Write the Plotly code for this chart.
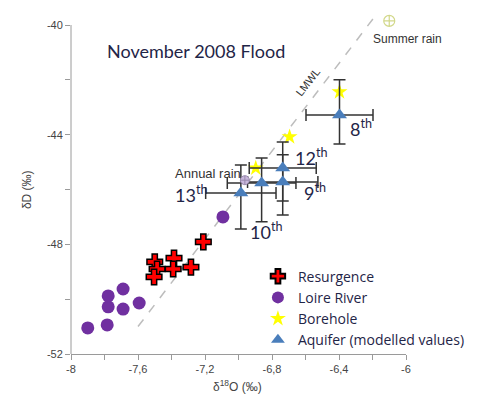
import plotly.graph_objects as go

# ---- data ----
res_x = [-7.50, -7.385, -7.486, -7.39, -7.284, -7.504, -7.21]
res_y = [-48.64, -48.50, -48.90, -48.90, -48.83, -49.19, -47.91]

loire_x = [-7.90, -7.784, -7.778, -7.778, -7.689, -7.689, -7.593, -7.093]
loire_y = [-51.05, -50.94, -50.28, -49.88, -49.63, -50.36, -50.14, -47.00]

bore_x = [-6.397, -6.695, -6.897]
bore_y = [-42.44, -44.08, -45.22]

aq_names = ["8", "12", "9", "10", "13"]
aq_x = [-6.397, -6.736, -6.736, -6.862, -6.986]
aq_y = [-43.28, -45.22, -45.73, -45.76, -46.13]
aq_ex = [0.20, 0.20, 0.21, 0.205, 0.21]
aq_ey_plus = [1.28, 0.95, 1.0, 0.91, 1.02]
aq_ey_minus = [1.06, 1.2, 1.2, 1.42, 1.31]

annual_x, annual_y = [-6.962], [-45.66]
summer_x, summer_y = [-6.10], [-39.85]

lmwl_slope, lmwl_int = 8.0, 9.8
lmwl_x = [-7.60, -6.17]

x_ticks = [-8, -7.6, -7.2, -6.8, -6.4, -6]
x_ticktext = ["-8", "-7,6", "-7,2", "-6,8", "-6,4", "-6"]
y_ticks = [-52, -48, -44, -40]

# ---- figure ----
navy = "#1f2547"
fig = go.Figure()

fig.add_trace(go.Scatter(
    x=lmwl_x, y=[lmwl_slope * v + lmwl_int for v in lmwl_x], mode="lines",
    line=dict(color="#bdbdbd", width=1.5, dash="dash"), showlegend=False, hoverinfo="skip"))

fig.add_trace(go.Scatter(
    x=res_x, y=res_y, mode="markers", name="Resurgence",
    marker=dict(symbol="cross", size=13, color="#ff0000", line=dict(color="#000000", width=1.5))))

fig.add_trace(go.Scatter(
    x=loire_x, y=loire_y, mode="markers", name="Loire River",
    marker=dict(symbol="circle", size=13, color="#7030a0")))

fig.add_trace(go.Scatter(
    x=bore_x, y=bore_y, mode="markers", name="Borehole",
    marker=dict(symbol="star", size=12, color="#ffff00")))

fig.add_trace(go.Scatter(
    x=aq_x, y=aq_y, mode="markers", name="Aquifer (modelled values)",
    marker=dict(symbol="triangle-up", size=13, color="#4a7ebb"),
    error_x=dict(type="data", array=aq_ex, color="#333333", thickness=1.5, width=6),
    error_y=dict(type="data", array=aq_ey_plus, arrayminus=aq_ey_minus,
                 color="#333333", thickness=1.5, width=6)))

fig.add_trace(go.Scatter(
    x=annual_x, y=annual_y, mode="markers", showlegend=False, cliponaxis=False,
    marker=dict(symbol="circle-cross", size=9, color="#c9b8dc", line=dict(color="#9a8aae", width=1))))

fig.add_trace(go.Scatter(
    x=summer_x, y=summer_y, mode="markers", showlegend=False, cliponaxis=False,
    marker=dict(symbol="circle-cross-open", size=11, color="#d2d88a", line=dict(width=1.2))))

# labels for aquifer points
shifts = {"8": (21, -13), "12": (28, 11), "9": (32, -10), "10": (4, -48), "13": (-50, -1)}
for n, x, y in zip(aq_names, aq_x, aq_y):
    dx, dy = shifts[n]
    fig.add_annotation(x=x, y=y, xref="x", yref="y", text=f"{n}<sup>th</sup>",
                       showarrow=False, xshift=dx, yshift=dy,
                       font=dict(family="Lato", size=18, color=navy))

fig.add_annotation(x=annual_x[0], y=annual_y[0], text="Annual rain", showarrow=False,
                   xanchor="right", xshift=-2, yshift=7,
                   font=dict(family="Liberation Sans", size=13, color="#333333"))
fig.add_annotation(x=summer_x[0], y=summer_y[0], text="Summer rain", showarrow=False,
                   xanchor="left", xshift=-18, yshift=-18,
                   font=dict(family="Liberation Sans", size=12, color="#333333"))
fig.add_annotation(x=-6.585, y=-42.08, text="LMWL", showarrow=False, textangle=-52,
                   font=dict(family="Liberation Sans", size=11, color="#333333"))

fig.add_annotation(x=0.10, y=0.913, xref="paper", yref="paper", xanchor="left",
                   text="November 2008 Flood", showarrow=False,
                   font=dict(family="Lato", size=18, color=navy))

fig.add_annotation(x=-0.158, y=0.474, xref="paper", yref="paper", text="δD (‰)",
                   textangle=-90, showarrow=False,
                   font=dict(family="Liberation Sans", size=12, color="#444444"))
fig.add_annotation(x=0.496, y=-0.121, xref="paper", yref="paper",
                   text="δ<sup>18</sup>O (‰)", showarrow=False,
                   font=dict(family="Liberation Sans", size=12, color="#444444"))

# left axis line from -52 to -40 only
fig.add_shape(type="line", xref="paper", yref="y", x0=0, x1=0, y0=-52, y1=-40,
              line=dict(color="#9a9a9a", width=1))

fig.update_layout(
    width=486, height=405,
    margin=dict(l=71, r=80, t=8, b=51),
    plot_bgcolor="white", paper_bgcolor="white",
    showlegend=True,
    legend=dict(x=0.558, y=0.27, xanchor="left", yanchor="top",
                font=dict(family="Open Sans", size=14, color=navy), itemwidth=30,
                bgcolor="rgba(0,0,0,0)", tracegroupgap=0, itemsizing="constant"),
    xaxis=dict(range=[-8, -6], tickvals=x_ticks, ticktext=x_ticktext,
               showgrid=False, zeroline=False, showline=True, linecolor="#9a9a9a",
               ticks="outside", ticklen=5, tickcolor="#9a9a9a",
               minor=dict(dtick=0.2, tick0=-8, ticks="outside", ticklen=5, tickcolor="#9a9a9a"),
               tickfont=dict(family="Liberation Sans", size=11, color="#444444")),
    yaxis=dict(range=[-52, -39.38], tickvals=y_ticks, ticktext=[str(v) for v in y_ticks],
               showgrid=False, zeroline=False, showline=False,
               ticks="outside", ticklen=5, tickcolor="#9a9a9a",
               minor=dict(dtick=2, tick0=-52, ticks="outside", ticklen=5, tickcolor="#9a9a9a"),
               tickfont=dict(family="Liberation Sans", size=11, color="#444444")),
)

fig.write_html("out.html", config={"displayModeBar": False},
               post_script="document.body.style.margin='0px';")
